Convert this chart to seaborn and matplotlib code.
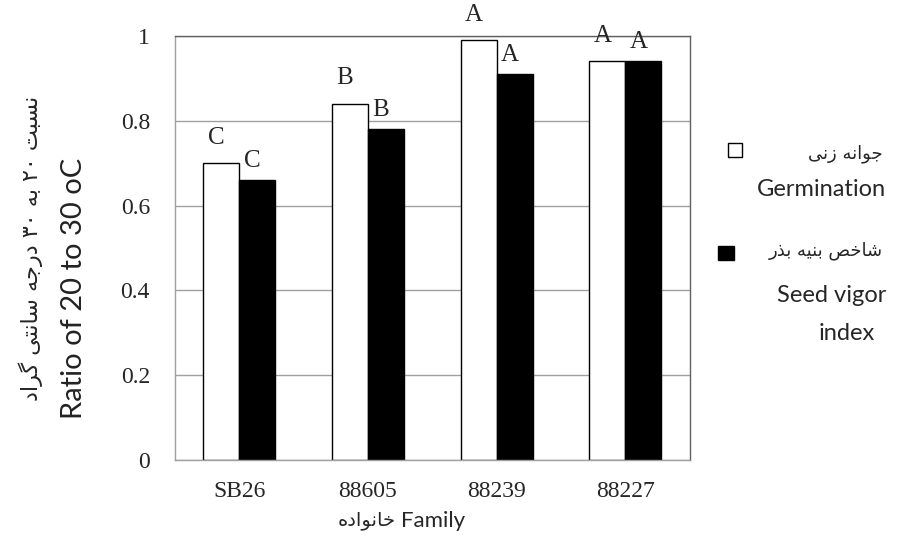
import pandas as pd
import matplotlib
matplotlib.use('Agg')
import matplotlib.pyplot as plt
import seaborn as sns
from matplotlib.patches import Rectangle

# values
families = ['SB26', '88605', '88239', '88227']
germination = [0.70, 0.84, 0.99, 0.94]
seed_vigor = [0.66, 0.78, 0.91, 0.94]
germ_letters = ['C', 'B', 'A', 'A']
vigor_letters = ['C', 'B', 'A', 'A']
series_names = ['Germination', 'Seed vigor index']
y_ticks = [0, 0.2, 0.4, 0.6, 0.8, 1.0]
y_ticklabels = ['0', '0.2', '0.4', '0.6', '0.8', '1']

ylabel_fa = 'نسبت ۲۰ به ۳۰ درجه سانتی گراد'
ylabel_en = 'Ratio of 20 to 30 oC'
xlabel_fa = 'خانواده'
xlabel_en = 'Family'
legend_fa = ['جوانه زنی', 'شاخص بنیه بذر']
legend_en = ['Germination', 'Seed vigor', 'index']

# matplotlib has no Arabic shaping, so pick presentation forms by hand
# (isolated, final, initial, medial)
FORMS = {
    'ا': ('\uFE8D', '\uFE8E', None, None),
    'ب': ('\uFE8F', '\uFE90', '\uFE91', '\uFE92'),
    'ت': ('\uFE95', '\uFE96', '\uFE97', '\uFE98'),
    'ج': ('\uFE9D', '\uFE9E', '\uFE9F', '\uFEA0'),
    'خ': ('\uFEA5', '\uFEA6', '\uFEA7', '\uFEA8'),
    'د': ('\uFEA9', '\uFEAA', None, None),
    'ذ': ('\uFEAB', '\uFEAC', None, None),
    'ر': ('\uFEAD', '\uFEAE', None, None),
    'ز': ('\uFEAF', '\uFEB0', None, None),
    'س': ('\uFEB1', '\uFEB2', '\uFEB3', '\uFEB4'),
    'ش': ('\uFEB5', '\uFEB6', '\uFEB7', '\uFEB8'),
    'ص': ('\uFEB9', '\uFEBA', '\uFEBB', '\uFEBC'),
    'ن': ('\uFEE5', '\uFEE6', '\uFEE7', '\uFEE8'),
    'ه': ('\uFEE9', '\uFEEA', '\uFEEB', '\uFEEC'),
    'و': ('\uFEED', '\uFEEE', None, None),
    'ی': ('\uFBFC', '\uFBFD', '\uFBFE', '\uFBFF'),
    'گ': ('\uFB92', '\uFB93', '\uFB94', '\uFB95'),
}


def shape_word(word):
    out = []
    for i, ch in enumerate(word):
        if ch not in FORMS:
            out.append(ch)
            continue
        iso, fin, ini, med = FORMS[ch]
        prev = word[i - 1] if i > 0 else ''
        nxt = word[i + 1] if i + 1 < len(word) else ''
        join_prev = prev in FORMS and FORMS[prev][2] is not None
        join_next = nxt in FORMS and ini is not None
        if join_prev and join_next:
            out.append(med)
        elif join_prev:
            out.append(fin)
        elif join_next:
            out.append(ini)
        else:
            out.append(iso)
    return ''.join(reversed(out))


def fa(text):
    words = [w if w.isdigit() else shape_word(w) for w in text.split(' ')]
    return ' '.join(reversed(words))


def fy(px):
    # pixel row of the 535 px tall picture -> figure fraction
    return 1 - px / 535


sns.set_style('white')
plt.rcParams['font.family'] = ['Liberation Serif', 'DejaVu Sans']
FA_FONT = ['DejaVu Sans']
EN_FONT = ['Lato', 'DejaVu Sans']

df = pd.DataFrame({
    'family': families * 2,
    'series': [series_names[0]] * len(families) + [series_names[1]] * len(families),
    'value': germination + seed_vigor,
})

fig, ax = plt.subplots(figsize=(8.97, 5.35), dpi=100)
fig.subplots_adjust(left=0.195, right=0.769, bottom=0.140, top=0.933)

sns.barplot(data=df, x='family', y='value', hue='series', order=families,
            hue_order=series_names, palette=['white', 'black'], saturation=1,
            width=0.56, edgecolor='black', linewidth=1.0, legend=False, ax=ax)

# significance letters over each bar
for container, letters, dy in zip(ax.containers, [germ_letters, vigor_letters], [0.06, 0.045]):
    for bar, letter in zip(container, letters):
        ax.text(bar.get_x() + bar.get_width() / 2 - 0.04, bar.get_height() + dy, letter,
                ha='center', va='center', fontsize=18, clip_on=False)

ax.set_xlim(-0.5, len(families) - 0.5)
ax.set_ylim(0, 1)
ax.set_yticks(y_ticks)
ax.set_yticklabels(y_ticklabels)
ax.yaxis.grid(True, color='#a0a0a0', linewidth=1)
ax.set_axisbelow(True)
ax.set_xlabel('')
ax.set_ylabel('')

ax.set_xticks([i - 0.5 for i in range(len(families) + 1)], minor=True)
ax.tick_params(axis='x', which='major', length=0, pad=15, labelsize=17)
ax.tick_params(axis='x', which='minor', length=8, width=1, color='#a0a0a0', direction='out')
ax.tick_params(axis='y', length=8, width=1, color='#a0a0a0', direction='out', pad=10, labelsize=17)

for side in ['left', 'bottom']:
    ax.spines[side].set_color('#a0a0a0')
for side in ['top', 'right']:
    ax.spines[side].set_color('#606060')
for sp in ax.spines.values():
    sp.set_linewidth(1)

# axis titles
fig.text(0.034, fy(248), fa(ylabel_fa), rotation=90, ha='center', va='center',
         fontsize=16, family=FA_FONT)
fig.text(0.083, fy(288), ylabel_en, rotation=90, ha='center', va='center',
         fontsize=21, family=EN_FONT, color='#222222')
fig.text(0.441, fy(521), fa(xlabel_fa), ha='right', va='center', fontsize=14, family=FA_FONT)
fig.text(0.447, fy(521), xlabel_en, ha='left', va='center', fontsize=16, family=EN_FONT)

# legend drawn by hand to keep the two-language layout
fig.patches.append(Rectangle((728 / 897, fy(157)), 14 / 897, 14 / 535, transform=fig.transFigure,
                             facecolor='white', edgecolor='black', linewidth=1))
fig.patches.append(Rectangle((718 / 897, fy(260)), 16 / 897, 14 / 535, transform=fig.transFigure,
                             facecolor='black', edgecolor='black', linewidth=1))
fig.text(0.984, fy(154), fa(legend_fa[0]), ha='right', va='center', fontsize=13, family=FA_FONT)
fig.text(0.984, fy(251), fa(legend_fa[1]), ha='right', va='center', fontsize=13, family=FA_FONT)
fig.text(0.988, fy(190), legend_en[0], ha='right', va='center', fontsize=17, family=EN_FONT)
fig.text(0.988, fy(295), legend_en[1], ha='right', va='center', fontsize=17, family=EN_FONT)
fig.text(847 / 897, fy(334), legend_en[2], ha='center', va='center', fontsize=17, family=EN_FONT)

fig.savefig('out.png', dpi=100)
